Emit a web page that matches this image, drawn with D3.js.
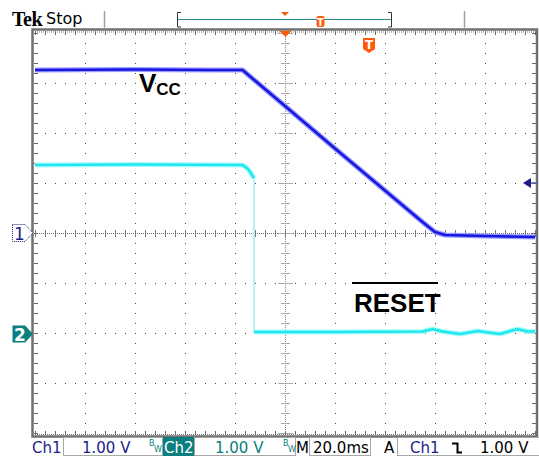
<!DOCTYPE html>
<meta charset="utf-8">
<head>
  <title>Vcc and RESET capture</title>
</head>

<style>
  body {
    margin: 0;
    background: #fff;
  }
  text {
    font-family: "DejaVu Sans", sans-serif;
  }
</style>

<body>
<svg id="scope" width="539" height="459"></svg>

<script src="https://cdnjs.cloudflare.com/ajax/libs/d3/7.8.5/d3.min.js"></script>
<script>
  // time in ms from screen centre, 20 ms/div
  var ch1Time  = [-100, -60, -30, -17, 0, 20, 40, 55, 60, 64, 80, 100];
  var ch1Volts = [3.26, 3.27, 3.26, 3.26, 2.54, 1.69, 0.85, 0.22, 0.02, -0.04, -0.06, -0.08];

  var ch2Time  = [-100, -60, -17, -14.8, -12.4, -12.4, 20, 55, 59, 63, 70, 77, 86, 93, 97, 100];
  var ch2Volts = [3.38, 3.39, 3.38, 3.30, 3.12, 0.04, 0.04, 0.05, 0.10, 0.05, 0.0, 0.06, 0.0, 0.10, 0.05, 0.05];
  var ch2EdgeIndex = 4;

  var channelNames = ['Ch1', 'Ch2'];
  var voltsPerDiv = [1.00, 1.00];
  var offsetDiv = [0, -2.02];
  var timePerDiv = 20.0;
  var triggerLevel = 1.00;
  var triggerTime = 33.6;

  var statusText = ['1.00 V', '1.00 V', '20.0ms', '1.00 V'];

  var svg = d3.select('#scope');

  var xScale = d3.scaleLinear()
    .domain([-5 * timePerDiv, 5 * timePerDiv])
    .range([35, 535]);

  var yDiv = d3.scaleLinear()
    .domain([-4, 4])
    .range([433, 33]);

  function yVolts(ch, v) {
    return yDiv(v / voltsPerDiv[ch] + offsetDiv[ch]);
  }

  // ---- graticule ----
  var grid = svg.append('g');
  var xDivs = d3.range(-4, 5);
  var yDivs = d3.range(-3, 4);

  grid.selectAll('line.vg')
    .data(xDivs.filter(function(d) { return d !== 0; }))
    .enter()
    .append('line')
    .attr('x1', function(d) { return xScale(d * timePerDiv) + 0.5; })
    .attr('x2', function(d) { return xScale(d * timePerDiv) + 0.5; })
    .attr('y1', 33)
    .attr('y2', 434)
    .attr('stroke', '#444')
    .attr('stroke-dasharray', '1,9');

  grid.selectAll('line.hg')
    .data(yDivs.filter(function(d) { return d !== 0; }))
    .enter()
    .append('line')
    .attr('x1', 35)
    .attr('x2', 536)
    .attr('y1', function(d) { return yDiv(d) + 0.5; })
    .attr('y2', function(d) { return yDiv(d) + 0.5; })
    .attr('stroke', '#444')
    .attr('stroke-dasharray', '1,9');

  // centre cross
  grid.append('line')
    .attr('x1', 285.5).attr('x2', 285.5).attr('y1', 33).attr('y2', 433)
    .attr('stroke', '#888').attr('stroke-dasharray', '1,1');
  grid.append('line')
    .attr('x1', 35).attr('x2', 535).attr('y1', 233.5).attr('y2', 233.5)
    .attr('stroke', '#666').attr('stroke-dasharray', '1,1');

  var minorY = d3.range(-20, 21).map(function(d) { return d / 5; });
  var minorX = d3.range(-25, 26).map(function(d) { return d / 5; });

  grid.selectAll('line.cty')
    .data(minorY)
    .enter()
    .append('line')
    .attr('x1', function(d) { return Number.isInteger(d) ? 278 : 281; })
    .attr('x2', function(d) { return Number.isInteger(d) ? 293 : 290; })
    .attr('y1', function(d) { return yDiv(d) + 0.5; })
    .attr('y2', function(d) { return yDiv(d) + 0.5; })
    .attr('stroke', '#aaa');

  grid.selectAll('line.ctx')
    .data(minorX)
    .enter()
    .append('line')
    .attr('x1', function(d) { return xScale(d * timePerDiv) + 0.5; })
    .attr('x2', function(d) { return xScale(d * timePerDiv) + 0.5; })
    .attr('y1', 230)
    .attr('y2', 237)
    .attr('stroke', '#777');

  // edge ticks
  grid.selectAll('line.et')
    .data(minorX)
    .enter()
    .append('line')
    .attr('x1', function(d) { return xScale(d * timePerDiv) + 0.5; })
    .attr('x2', function(d) { return xScale(d * timePerDiv) + 0.5; })
    .attr('y1', 31)
    .attr('y2', 35)
    .attr('stroke', '#666');
  grid.selectAll('line.eb')
    .data(minorX)
    .enter()
    .append('line')
    .attr('x1', function(d) { return xScale(d * timePerDiv) + 0.5; })
    .attr('x2', function(d) { return xScale(d * timePerDiv) + 0.5; })
    .attr('y1', 431)
    .attr('y2', 435)
    .attr('stroke', '#666');
  grid.selectAll('line.el')
    .data(minorY)
    .enter()
    .append('line')
    .attr('x1', 34)
    .attr('x2', 38)
    .attr('y1', function(d) { return yDiv(d) + 0.5; })
    .attr('y2', function(d) { return yDiv(d) + 0.5; })
    .attr('stroke', '#666');
  grid.selectAll('line.er')
    .data(minorY)
    .enter()
    .append('line')
    .attr('x1', 532)
    .attr('x2', 536)
    .attr('y1', function(d) { return yDiv(d) + 0.5; })
    .attr('y2', function(d) { return yDiv(d) + 0.5; })
    .attr('stroke', '#666');

  grid.append('line')
    .attr('x1', 35).attr('x2', 536).attr('y1', 32).attr('y2', 32)
    .attr('stroke', '#777').attr('stroke-dasharray', '1,1');
  grid.append('line')
    .attr('x1', 35).attr('x2', 536).attr('y1', 434.5).attr('y2', 434.5)
    .attr('stroke', '#777').attr('stroke-dasharray', '1,1');

  // frame
  svg.append('rect')
    .attr('x', 32.5).attr('y', 29.5)
    .attr('width', 504.5).attr('height', 407)
    .attr('fill', 'none')
    .attr('stroke', '#707070')
    .attr('stroke-width', 2.5);

  // ---- traces ----
  var line = d3.line()
    .x(function(d) { return xScale(d.t); })
    .y(function(d) { return d.y; });

  var ch1 = ch1Time.map(function(t, i) { return { t: t, y: yVolts(0, ch1Volts[i]) }; });
  var ch2 = ch2Time.map(function(t, i) { return { t: t, y: yVolts(1, ch2Volts[i]) }; });

  var ch2High = ch2.slice(0, ch2EdgeIndex + 1);
  var ch2Edge = ch2.slice(ch2EdgeIndex, ch2EdgeIndex + 2);
  var ch2Low = ch2.slice(ch2EdgeIndex + 1);

  svg.append('path').attr('d', line(ch2Edge))
    .attr('fill', 'none').attr('stroke', '#b0f6f6').attr('stroke-width', 2);

  [ch2High, ch2Low].forEach(function(seg) {
    svg.append('path').attr('d', line(seg))
      .attr('fill', 'none').attr('stroke', '#a8fafa').attr('stroke-width', 5);
    svg.append('path').attr('d', line(seg))
      .attr('fill', 'none').attr('stroke', '#1ee8ee').attr('stroke-width', 2.6);
  });

  svg.append('path').attr('d', line(ch1))
    .attr('fill', 'none').attr('stroke', '#9a9aff').attr('stroke-width', 5)
    .attr('stroke-linejoin', 'round');
  svg.append('path').attr('d', line(ch1))
    .attr('fill', 'none').attr('stroke', '#1818e0').attr('stroke-width', 2.6)
    .attr('stroke-linejoin', 'round');

  // ---- trace labels ----
  var vcc = svg.append('text')
    .attr('x', 139)
    .attr('y', yVolts(0, 2.82))
    .style('font-family', '"Liberation Sans", Arial, sans-serif')
    .style('font-weight', 'bold')
    .style('font-size', '26px')
    .attr('fill', '#000');
  vcc.append('tspan').text('V');
  vcc.append('tspan').attr('dy', 3).style('font-size', '17px').text('CC');

  svg.append('text')
    .attr('x', 354)
    .attr('y', yVolts(1, 0.44))
    .style('font-family', '"Liberation Sans", Arial, sans-serif')
    .style('font-weight', 'bold')
    .style('font-size', '26px')
    .attr('fill', '#000')
    .text('RESET');
  svg.append('line')
    .attr('x1', 352).attr('x2', 438)
    .attr('y1', yVolts(1, 1.02)).attr('y2', yVolts(1, 1.02))
    .attr('stroke', '#000').attr('stroke-width', 2);

  // ---- markers ----
  var orange = '#ff5a0a';
  var navy = '#1c1c8c';
  var teal = '#0a7f7f';

  function chMarker(ch) {
    var y = yDiv(offsetDiv[ch]);
    return 'M12.5,' + (y - 8.5) + 'H25L33,' + y + 'L25,' + (y + 8.5) + 'H12.5Z';
  }
  svg.append('path').attr('d', chMarker(0))
    .attr('fill', '#fff').attr('stroke', navy).attr('stroke-dasharray', '1,1');
  svg.append('text').attr('x', 14).attr('y', yDiv(offsetDiv[0]) + 7)
    .style('font-size', '17px').attr('fill', navy).text('1');
  svg.append('path').attr('d', chMarker(1)).attr('fill', teal);
  svg.append('text').attr('x', 14).attr('y', yDiv(offsetDiv[1]) + 7)
    .style('font-size', '17px').style('font-weight', 'bold').attr('fill', '#fff').text('2');

  // trigger level on the right
  var yTrig = yVolts(0, triggerLevel);
  svg.append('path')
    .attr('d', 'M523,' + yTrig + 'L531,' + (yTrig - 5) + 'V' + (yTrig + 5) + 'Z')
    .attr('fill', navy);
  svg.append('line').attr('x1', 531).attr('x2', 538).attr('y1', yTrig).attr('y2', yTrig)
    .attr('stroke', '#5a5aa0').attr('stroke-width', 1.5);

  // horizontal position and trigger point
  var xPos = xScale(0) + 0.5;
  svg.append('path')
    .attr('d', 'M' + (xPos - 6) + ',31L' + (xPos + 6) + ',31L' + xPos + ',37Z')
    .attr('fill', orange);
  var xT = xScale(triggerTime);
  svg.append('path')
    .attr('d', 'M' + (xT - 6) + ',38H' + (xT + 6) + 'V49L' + xT + ',53L' + (xT - 6) + ',49Z')
    .attr('fill', orange);
  svg.append('text').attr('x', xT).attr('y', 49).attr('text-anchor', 'middle')
    .style('font-size', '12px').style('font-weight', 'bold').attr('fill', '#fff').text('T');

  // ---- header ----
  svg.append('text').attr('x', 12).attr('y', 26)
    .style('font-family', '"Liberation Serif", serif').style('font-weight', 'bold')
    .style('font-size', '20px').style('letter-spacing', '-0.5px').attr('fill', '#000').text('Tek');
  svg.append('text').attr('x', 46).attr('y', 24)
    .style('font-size', '16px').attr('fill', '#000').text('Stop');

  [104.5, 464.5].forEach(function(x) {
    svg.append('line').attr('x1', x).attr('x2', x).attr('y1', 11).attr('y2', 29)
      .attr('stroke', '#a0a0a0').attr('stroke-width', 1.5);
  });
  svg.append('line').attr('x1', 178).attr('x2', 391).attr('y1', 19.5).attr('y2', 19.5)
    .attr('stroke', '#2a8a8a');
  svg.append('path').attr('d', 'M181,12.5H177.5V27H181').attr('fill', 'none').attr('stroke', '#333');
  svg.append('path').attr('d', 'M388,12.5H391.5V27H388').attr('fill', 'none').attr('stroke', '#333');
  svg.append('path').attr('d', 'M281,12L289,12L285,16Z').attr('fill', orange);
  svg.append('rect').attr('x', 316.5).attr('y', 16).attr('width', 8).attr('height', 11).attr('rx', 2)
    .attr('fill', orange);
  svg.append('text').attr('x', 320.5).attr('y', 25.5).attr('text-anchor', 'middle')
    .style('font-size', '10px').style('font-weight', 'bold').attr('fill', '#fff').text('T');

  // ---- status bar ----
  var bar = svg.append('g').style('font-size', '15px');
  var boxes = [[63.5, 99], [194.5, 101], [309.5, 61], [397.5, 145]];
  boxes.forEach(function(b) {
    bar.append('rect').attr('x', b[0]).attr('y', 437.5).attr('width', b[1]).attr('height', 18)
      .attr('fill', 'none').attr('stroke', '#a8a8a8');
  });
  bar.append('rect').attr('x', 163).attr('y', 437).attr('width', 31).attr('height', 19).attr('fill', teal);

  bar.append('text').attr('x', 32).attr('y', 453).attr('fill', navy).text(channelNames[0]);
  bar.append('text').attr('x', 82).attr('y', 453).attr('fill', navy).text(statusText[0]);
  bar.append('text').attr('x', 164).attr('y', 453).attr('fill', '#fff').text(channelNames[1]);
  bar.append('text').attr('x', 215).attr('y', 453).attr('fill', teal).text(statusText[1]);
  bar.append('text').attr('x', 296).attr('y', 453).attr('fill', '#000').text('M');
  bar.append('text').attr('x', 313).attr('y', 453).attr('fill', '#000').text(statusText[2]);
  bar.append('text').attr('x', 384).attr('y', 453).attr('fill', '#000').text('A');
  bar.append('text').attr('x', 410).attr('y', 453).attr('fill', navy).text(channelNames[0]);
  bar.append('text').attr('x', 480).attr('y', 453).attr('fill', '#000').text(statusText[3]);
  bar.append('path').attr('d', 'M452,443.5H457.5V452.5H462').attr('fill', 'none')
    .attr('stroke', '#000').attr('stroke-width', 2);

  [149, 283].forEach(function(x) {
    bar.append('text').attr('x', x).attr('y', 446).style('font-size', '8px').attr('fill', teal).text('B');
    bar.append('text').attr('x', x + 5).attr('y', 452).style('font-size', '8px').attr('fill', teal).text('W');
  });

</script>
</body>
</html>
